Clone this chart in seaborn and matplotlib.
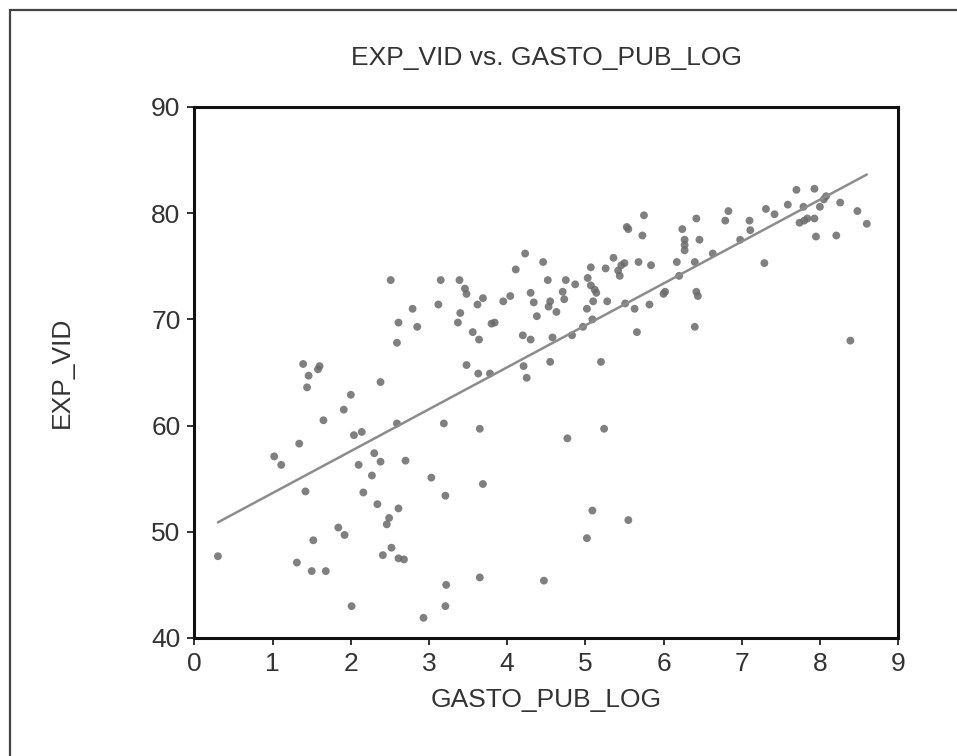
import pandas as pd
import numpy as np
import matplotlib
matplotlib.use("Agg")
import matplotlib.pyplot as plt
from matplotlib.patches import Rectangle
import seaborn as sns

# points (GASTO_PUB_LOG, EXP_VID)
gasto_pub_log = [
    0.30, 1.02, 1.11, 1.31, 1.34, 1.39, 1.42, 1.44, 1.46, 1.50, 1.52, 1.60, 1.58, 1.65, 1.68,
    1.84, 1.91, 1.92, 2.00, 2.01, 2.04, 2.10, 2.14, 2.16, 2.27, 2.30, 2.34, 2.38, 2.38, 2.41,
    2.46, 2.49, 2.51, 2.52, 2.59, 2.59, 2.61, 2.61, 2.61, 2.68, 2.70, 2.79, 2.85, 2.93, 3.03,
    3.12, 3.15, 3.19, 3.21, 3.22, 3.21, 3.37, 3.39, 3.40, 3.46, 3.48, 3.48, 3.56, 3.62, 3.63,
    3.64, 3.65, 3.65, 3.69, 3.69, 3.78, 3.80, 3.84, 3.95, 4.04, 4.11, 4.20, 4.21, 4.23, 4.25,
    4.30, 4.30, 4.34, 4.38, 4.46, 4.47, 4.52, 4.53, 4.55, 4.55, 4.58, 4.63, 4.71, 4.73, 4.75,
    4.77, 4.83, 4.87, 4.97, 5.02, 5.02, 5.03, 5.07, 5.07, 5.09, 5.09, 5.10, 5.12, 5.14, 5.20,
    5.24, 5.26, 5.28, 5.36, 5.42, 5.44, 5.46, 5.50, 5.51, 5.55, 5.53, 5.55, 5.63, 5.66, 5.68,
    5.73, 5.75, 5.82, 5.84, 6.00, 6.02, 6.17, 6.20, 6.24, 6.27, 6.27, 6.27, 6.40, 6.40, 6.42,
    6.42, 6.44, 6.46, 6.63, 6.79, 6.83, 6.98, 7.10, 7.11, 7.29, 7.31, 7.42, 7.59, 7.70, 7.74,
    7.79, 7.80, 7.84, 7.93, 7.93, 7.95, 8.00, 8.05, 8.08, 8.21, 8.26, 8.39, 8.48, 8.60,
]
exp_vid = [
    47.7, 57.1, 56.3, 47.1, 58.3, 65.8, 53.8, 63.6, 64.7, 46.3, 49.2, 65.6, 65.3, 60.5, 46.3,
    50.4, 61.5, 49.7, 62.9, 43.0, 59.1, 56.3, 59.4, 53.7, 55.3, 57.4, 52.6, 64.1, 56.6, 47.8,
    50.7, 51.3, 73.7, 48.5, 60.2, 67.8, 69.7, 52.2, 47.5, 47.4, 56.7, 71.0, 69.3, 41.9, 55.1,
    71.4, 73.7, 60.2, 53.4, 45.0, 43.0, 69.7, 73.7, 70.6, 72.9, 72.4, 65.7, 68.8, 71.4, 64.9,
    68.1, 59.7, 45.7, 72.0, 54.5, 64.9, 69.6, 69.7, 71.7, 72.2, 74.7, 68.5, 65.6, 76.2, 64.5,
    72.5, 68.1, 71.6, 70.3, 75.4, 45.4, 73.7, 71.2, 71.7, 66.0, 68.3, 70.7, 72.6, 71.9, 73.7,
    58.8, 68.5, 73.3, 69.3, 71.0, 49.4, 73.9, 74.9, 73.2, 70.0, 52.0, 71.7, 72.8, 72.5, 66.0,
    59.7, 74.8, 71.7, 75.8, 74.6, 74.1, 75.1, 75.3, 71.5, 78.5, 78.7, 51.1, 71.0, 68.8, 75.4,
    77.9, 79.8, 71.4, 75.1, 72.4, 72.6, 75.4, 74.1, 78.5, 77.5, 77.0, 76.5, 75.4, 69.3, 79.5,
    72.6, 72.2, 77.5, 76.2, 79.3, 80.2, 77.5, 79.3, 78.4, 75.3, 80.4, 79.9, 80.8, 82.2, 79.1,
    80.6, 79.3, 79.5, 82.3, 79.5, 77.8, 80.6, 81.3, 81.6, 77.9, 81.0, 68.0, 80.2, 79.0,
]
x_ticks = [0, 1, 2, 3, 4, 5, 6, 7, 8, 9]
y_ticks = [40, 50, 60, 70, 80, 90]

df = pd.DataFrame({'GASTO_PUB_LOG': gasto_pub_log, 'EXP_VID': exp_vid})

sns.set_style('ticks')
plt.rcParams['font.family'] = ['Liberation Sans', 'DejaVu Sans']

fig = plt.figure(figsize=(9.57, 7.56), dpi=100)
ax = fig.add_axes([0.2032, 0.1561, 0.7352, 0.7024])

#scatter + OLS line, eviews style grey
sns.regplot(data=df, x='GASTO_PUB_LOG', y='EXP_VID', ax=ax, ci=None,
            scatter_kws={'s': 32, 'color': '#6a6a6a', 'alpha': 0.85, 'edgecolor': 'none'},
            line_kws={'color': '#8c8c8c', 'lw': 1.8})

ax.set_xlim(0, 9)
ax.set_ylim(40, 90)
ax.set_xticks(x_ticks)
ax.set_yticks(y_ticks)
ax.tick_params(direction='out', length=5, width=1.4, labelsize=19, colors='#333', pad=5)
for s in ax.spines.values():
    s.set_visible(True)
    s.set_linewidth(2.2)
    s.set_color('#111')

ax.set_title('EXP_VID vs. GASTO_PUB_LOG', fontsize=19, color='#333', pad=30)
ax.set_xlabel('GASTO_PUB_LOG', fontsize=19, color='#333', labelpad=9)
ax.set_ylabel('EXP_VID', fontsize=19, color='#333', labelpad=56)

# outer frame of the scanned image
fig.add_artist(Rectangle((10 / 957, -0.1), 1.2, 1 - 10 / 756 + 0.1, transform=fig.transFigure,
                         fill=False, lw=1.6, ec='#444'))

fig.savefig('out.png', dpi=100)
